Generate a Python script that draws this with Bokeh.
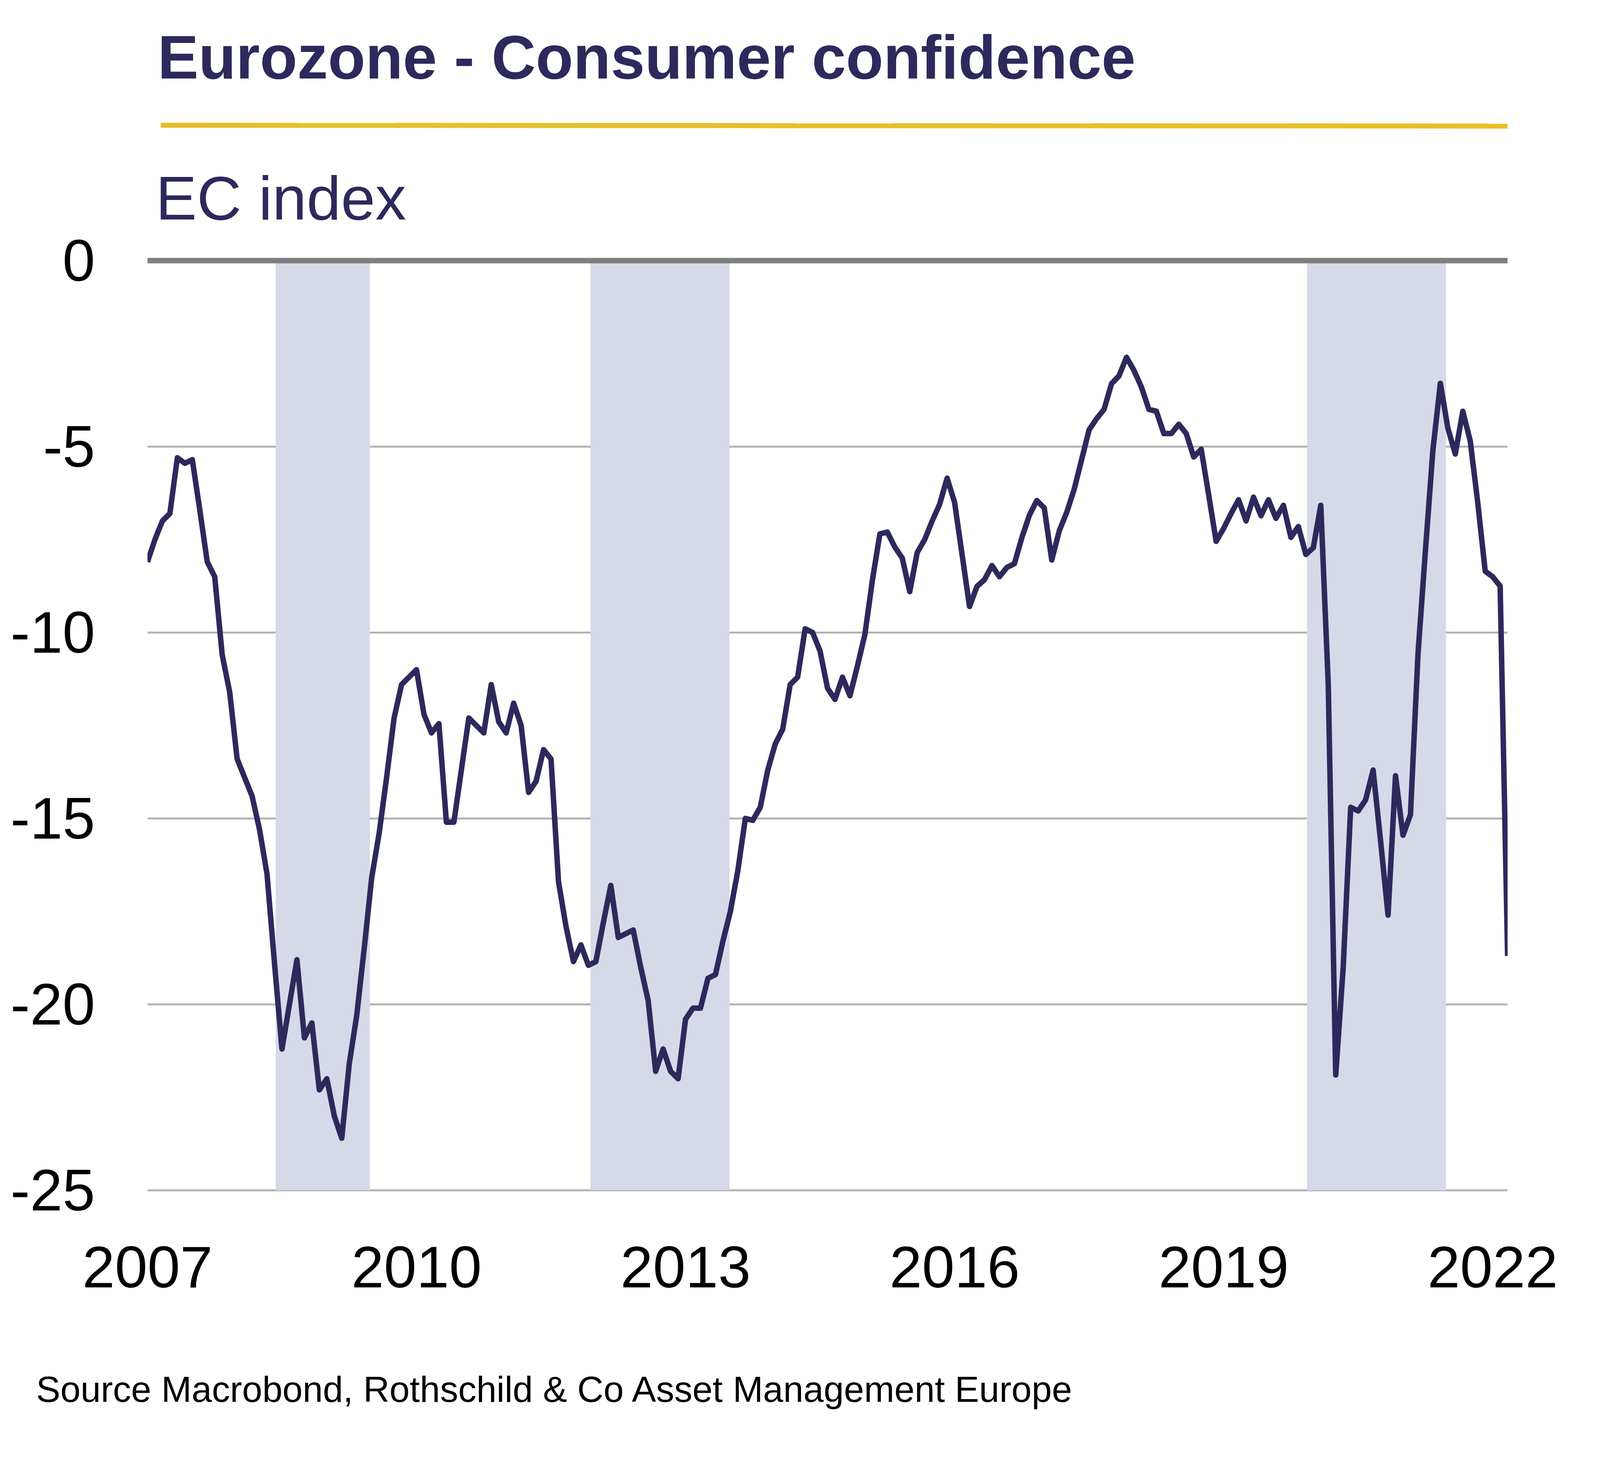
from bokeh.plotting import figure
from bokeh.models import Range1d, FixedTicker, Span, ColumnDataSource, Title
from bokeh.core.properties import value
from bokeh.embed import file_html
from bokeh.resources import INLINE

# ---- data (monthly, Jan 2007 - Mar 2022) ----
start_year = 2007
y2007 = [-8.1, -7.5, -7.0, -6.8, -5.3, -5.45, -5.35, -6.7, -8.1, -8.5, -10.6, -11.6]
y2008 = [-13.4, -13.9, -14.4, -15.3, -16.5, -18.9, -21.2, -20.0, -18.8, -20.9, -20.5, -22.3]
y2009 = [-22.0, -23.0, -23.6, -21.6, -20.3, -18.5, -16.6, -15.4, -13.9, -12.3, -11.4, -11.2]
y2010 = [-11.0, -12.2, -12.7, -12.45, -15.1, -15.1, -13.7, -12.3, -12.5, -12.7, -11.4, -12.4]
y2011 = [-12.7, -11.9, -12.5, -14.3, -14.0, -13.15, -13.4, -16.7, -17.9, -18.85, -18.4, -18.95]
y2012 = [-18.85, -17.8, -16.8, -18.2, -18.1, -18.0, -19.0, -19.9, -21.8, -21.2, -21.8, -22.0]
y2013 = [-20.4, -20.1, -20.1, -19.3, -19.2, -18.3, -17.5, -16.4, -15.0, -15.05, -14.7, -13.7]
y2014 = [-13.0, -12.6, -11.4, -11.2, -9.9, -10.0, -10.5, -11.5, -11.8, -11.2, -11.7, -10.9]
y2015 = [-10.05, -8.6, -7.35, -7.3, -7.7, -8.0, -8.9, -7.85, -7.5, -7.0, -6.55, -5.85]
y2016 = [-6.5, -7.9, -9.3, -8.76, -8.58, -8.2, -8.5, -8.25, -8.15, -7.45, -6.85, -6.45]
y2017 = [-6.65, -8.05, -7.27, -6.77, -6.15, -5.35, -4.55, -4.25, -4.0, -3.31, -3.1, -2.6]
y2018 = [-2.95, -3.4, -4.0, -4.05, -4.65, -4.65, -4.4, -4.65, -5.28, -5.07, -6.3, -7.55]
y2019 = [-7.2, -6.8, -6.43, -7.0, -6.36, -6.86, -6.43, -6.93, -6.58, -7.44, -7.15, -7.9]
y2020 = [-7.72, -6.58, -11.4, -21.9, -19.0, -14.7, -14.8, -14.5, -13.7, -15.6, -17.6, -13.85]
y2021 = [-15.45, -14.9, -10.6, -7.8, -5.1, -3.3, -4.5, -5.2, -4.05, -4.85, -6.5, -8.35]
y2022 = [-8.5, -8.75, -18.7]

# recession shading (decimal years)
rec_start = [2008.43, 2011.94, 2019.93]
rec_end = [2009.48, 2013.49, 2021.48]

y_ticks = [-25, -20, -15, -10, -5, 0]
y_tick_labels = ["-25", "-20", "-15", "-10", "-5", "0"]
x_ticks = [2007, 2010, 2013, 2016, 2019, 2022]
x_tick_labels = ["2007", "2010", "2013", "2016", "2019", "2022"]

title_text = "Eurozone - Consumer confidence"
unit_text = "EC index"
source_text = "Source Macrobond, Rothschild & Co Asset Management Europe"

values = (y2007 + y2008 + y2009 + y2010 + y2011 + y2012 + y2013 + y2014 +
          y2015 + y2016 + y2017 + y2018 + y2019 + y2020 + y2021 + y2022)
dates = [start_year + i / 12.0 for i in range(len(values))]

NAVY = "#2d295c"
FONT = "Liberation Sans"

# the frame reaches up into the header band (above the 0 line) so the
# heading, gold rule and unit label are drawn inside it
p = figure(width=4200, height=3760, output_backend="svg", toolbar_location=None,
           x_range=Range1d(dates[0], dates[-1]), y_range=Range1d(-25.4, 6.5),
           min_border_left=377, min_border_right=341,
           min_border_top=48, min_border_bottom=675)
p.outline_line_color = None
p.background_fill_color = "white"
p.border_fill_color = "white"

# recession bands
p.quad(left=rec_start, right=rec_end, top=[0] * len(rec_start),
       bottom=[-25] * len(rec_start), fill_color="#d5d9e8", line_color=None)

# series line
src = ColumnDataSource(dict(x=dates, y=values))
p.line("x", "y", source=src, line_color=NAVY, line_width=14, line_join="round")

# zero line
p.add_layout(Span(location=0, dimension="width", line_color="#7f7f7f",
                  line_width=14, level="overlay"))

# axes
for ax in (p.xaxis[0], p.yaxis[0]):
    ax.axis_line_color = None
    ax.major_tick_line_color = None
    ax.minor_tick_line_color = None
    ax.major_label_text_font = FONT
    ax.major_label_text_color = "#000000"
    ax.major_label_text_font_size = "150px"
p.yaxis[0].ticker = FixedTicker(ticks=y_ticks)
p.yaxis[0].major_label_overrides = dict(zip(y_ticks, y_tick_labels))
p.yaxis[0].major_label_standoff = 128
p.xaxis[0].ticker = FixedTicker(ticks=x_ticks)
p.xaxis[0].major_label_overrides = dict(zip(x_ticks, x_tick_labels))
p.xaxis[0].major_label_standoff = 100
# blank axis label only reserves room between the year labels and the note
p.xaxis[0].axis_label = " "
p.xaxis[0].axis_label_text_font_size = "100px"
p.xaxis[0].axis_label_standoff = 81

p.xgrid.grid_line_color = None
p.ygrid.ticker = FixedTicker(ticks=[t for t in y_ticks if t != 0])
p.ygrid.grid_line_color = "#b3b3b3"
p.ygrid.grid_line_width = 5

# header band: heading, gold rule, unit label
p.text(x=[2007.113], y=[5.47], text=[title_text], text_font=value(FONT),
       text_font_style="bold", text_font_size=value("157px"),
       text_color=NAVY, text_baseline="alphabetic", text_align="left")
p.segment(x0=[2007.148], y0=[3.64], x1=[2022.34], y1=[3.62],
          line_color="#e8bf2a", line_width=13)
p.text(x=[2007.092], y=[1.68], text=[unit_text], text_font=value(FONT),
       text_font_size=value("158px"), text_color=NAVY,
       text_baseline="alphabetic", text_align="left")

# source note below the x axis
p.add_layout(Title(text=source_text, align="left", offset=92 - 377,
                   text_font=FONT, text_font_size="93px",
                   text_font_style="normal", text_color="#000000",
                   vertical_align="top", standoff=20), "below")

open("out.html", "w").write(file_html(p, INLINE))
